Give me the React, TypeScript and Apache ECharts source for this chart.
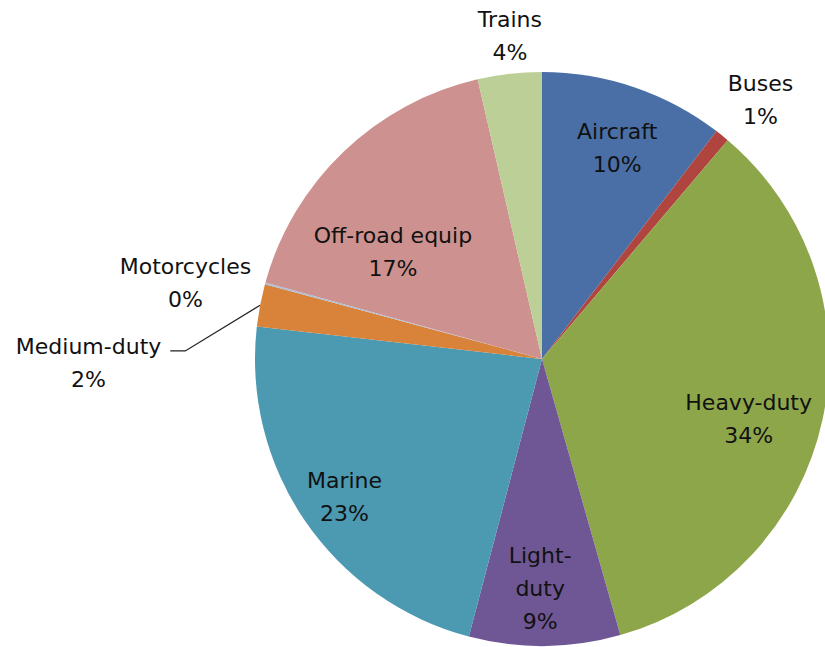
import { useEffect, useRef } from "react";
import * as echarts from "echarts";

// ---- Data ----
const categories = [
  "Aircraft",
  "Buses",
  "Heavy-duty",
  "Light-duty",
  "Marine",
  "Medium-duty",
  "Motorcycles",
  "Off-road equip",
  "Trains",
];
const shares = [10.4, 0.8, 34.4, 8.5, 22.7, 2.4, 0.1, 17.1, 3.6];
const labelNames = [
  "Aircraft",
  "Buses",
  "Heavy-duty",
  "Light-\nduty",
  "Marine",
  "Medium-duty",
  "Motorcycles",
  "Off-road equip",
  "Trains",
];

// ---- Styles / layout ----
const colors = [
  "#4A6FA7",
  "#B0443F",
  "#8EA64A",
  "#6E5794",
  "#4C99B2",
  "#D8823A",
  "#A9C0DC",
  "#CD918F",
  "#BCCF96",
];
const CX = 542;
const CY = 359;
const R = 287;
// [radial fraction of R, angular shift in degrees] for each label
const labelPlacement: [number, number][] = [
  [0.78, 0.9],
  [1.18, 1.3],
  [0.75, 4],
  [0.8, 1],
  [0.84, -0.6],
  [1.58, -11.3],
  [1.27, -3.3],
  [0.64, -10.5],
  [1.13, 0.8],
];
const leaderIdx = categories.indexOf("Medium-duty");

export default function App() {
  const ref = useRef<HTMLDivElement>(null);

  useEffect(() => {
    document.body.style.margin = "0";
    if (!ref.current) return;
    const chart = echarts.init(ref.current, null, { renderer: "svg" });

    const total = shares.reduce((a, b) => a + b, 0);
    const midAngles: number[] = [];
    let acc = 0;
    shares.forEach((v) => {
      midAngles.push(((acc + v / 2) / total) * 360);
      acc += v;
    });

    chart.setOption({
      animation: false,
      color: colors,
      series: [
        {
          type: "pie",
          center: [CX, CY],
          radius: R,
          startAngle: 90,
          clockwise: true,
          avoidLabelOverlap: false,
          minShowLabelAngle: 0,
          itemStyle: { borderWidth: 0 },
          label: {
            show: true,
            position: "outside",
            color: "#111",
            fontFamily: "DejaVu Sans",
            fontSize: 22,
            lineHeight: 33,
            align: "center",
            formatter: (p: any) =>
              `${labelNames[p.dataIndex]}\n${Math.round(p.value)}%`,
          },
          labelLine: { show: false },
          labelLayout: (params: any) => {
            const i = params.dataIndex;
            const [f, off] = labelPlacement[i];
            const a = ((midAngles[i] + off) * Math.PI) / 180;
            const x = CX + f * R * Math.sin(a);
            const y = CY - f * R * Math.cos(a);
            const res: any = { x, y, align: "center", verticalAlign: "middle" };
            if (i === leaderIdx) {
              const m = (midAngles[i] * Math.PI) / 180;
              const ex = CX + R * Math.sin(m);
              const ey = CY - R * Math.cos(m);
              const right = x + params.labelRect.width / 2;
              const ly = y - 12;
              res.labelLinePoints = [
                [ex, ey],
                [right + 24, ly],
                [right + 9, ly],
              ];
            }
            return res;
          },
          data: categories.map((name, i) => ({
            name,
            value: shares[i],
            labelLine:
              i === leaderIdx
                ? { show: true, lineStyle: { color: "#222", width: 1.3 } }
                : { show: false },
          })),
        },
      ],
    });

    return () => chart.dispose();
  }, []);

  return <div ref={ref} style={{ width: 825, height: 647 }} />;
}
